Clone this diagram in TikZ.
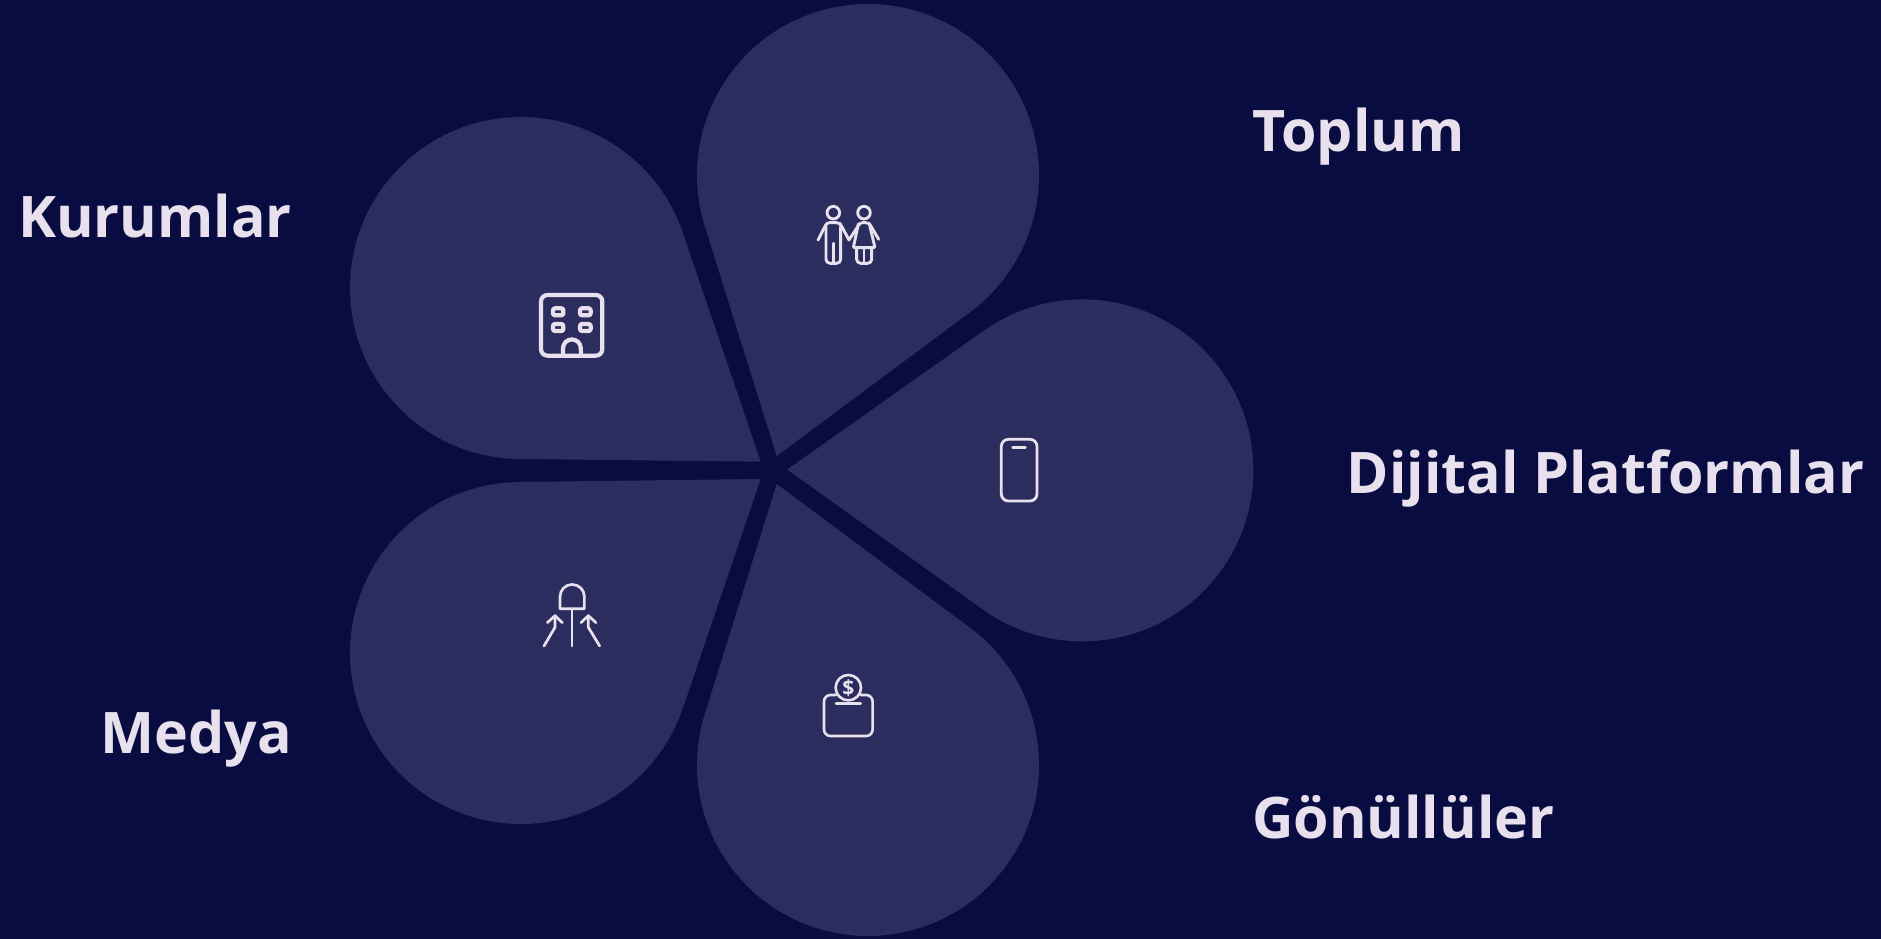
\documentclass[tikz,border=0pt]{standalone}
\usepackage{fontspec}
\setmainfont{Open Sans}
\definecolor{bgc}{HTML}{090C40}
\definecolor{petalc}{HTML}{2B2D5E}
\definecolor{inkc}{HTML}{E8E0EC}
\newcommand{\petalshape}[4]{%
  \pgfmathsetmacro{\pdx}{#3-#1}%
  \pgfmathsetmacro{\pdy}{#2-#4}%
  \pgfmathsetmacro{\pang}{atan2(\pdy,\pdx)}%
  \pgfmathsetmacro{\pd}{veclen(\pdx,\pdy)}%
  \pgfmathsetmacro{\pbeta}{asin(171/\pd)}%
  \pgfmathsetmacro{\pL}{sqrt(\pd-171)*sqrt(\pd+171)}%
  \fill[petalc,shift={(#1pt,{938pt-#2pt})},rotate=\pang]
    (0,0) -- (\pbeta:\pL pt)
    arc[start angle={90+\pbeta},end angle={-90-\pbeta},radius=171pt] -- cycle;
}
\tikzset{
  label text/.style={text=inkc,font=\fontsize{57.3}{58}\selectfont\bfseries,inner sep=0pt},
  icon/.style={draw=inkc,line cap=round,line join=round},
  zoomed/.style={x=0.3333pt,y=-0.3333pt}
}
\begin{document}
\begin{tikzpicture}[x=1pt,y=1pt]
\useasboundingbox (0,0) rectangle (1881,938);
\fill[bgc] (-5,-5) rectangle (1886,943);
\petalshape{776.7}{456}{868}{175}
\petalshape{787.3}{469.5}{1082.4}{470.4}
\petalshape{776.7}{484}{868}{765}
\petalshape{760.7}{479}{521}{653}
\petalshape{760.7}{461.7}{521}{288}

\node[label text,anchor=base west] (toplum) at (1252,786) {Toplum};
\node[label text,anchor=base east] (kurumlar) at (292,700) {Kurumlar};
\node[label text,anchor=base west] (dijital) at (1346.5,444) {Dijital Platformlar};
\node[label text,anchor=base east] (medya) at (292,185) {Medya};
\node[label text,anchor=base west] (gonullu) at (1252,100) {Gönüllüler};

% people
\begin{scope}[shift={(790pt,758pt)},zoomed,icon,line width=2.9pt]
\draw (130,98) circle[radius=6.3pt];
\draw (222,98) circle[radius=6.3pt];
\draw (84,180) -- (106,137) [rounded corners=3pt] -- (110,128) -- (148,128) -- (154,137) [sharp corners] -- (177,180) -- (205,137) [rounded corners=3pt] -- (209,128) -- (236,128) -- (242,137) [sharp corners] -- (266,178);
\draw[rounded corners=4pt] (108,140) -- (108,250) -- (152,250) -- (152,140);
\draw (130,190) -- (130,248);
\draw[rounded corners=1pt] (205,132) -- (190,203) -- (255,203) -- (238,132);
\draw[rounded corners=4pt] (200,203) -- (200,250) -- (245,250) -- (245,203);
\draw (222,203) -- (222,248);
\end{scope}
% building
\begin{scope}[shift={(520pt,662pt)},zoomed,icon,line width=4.2pt]
\draw[rounded corners=6.5pt] (63,57) rectangle (247,239);
\draw[rounded corners=2pt] (99,97) rectangle (130,118);
\draw[rounded corners=2pt] (180,97) rectangle (212,118);
\draw[rounded corners=2pt] (99,144) rectangle (130,165);
\draw[rounded corners=2pt] (180,144) rectangle (212,165);
\draw (129,238) -- (129,217) arc[start angle=180,end angle=0,radius=8.9pt] -- (183,238);
\end{scope}
% phone
\begin{scope}[shift={(980pt,518pt)},zoomed,icon,line width=2.8pt]
\draw[rounded corners=7pt] (64,58) rectangle (171,243);
\draw (98,83) -- (136,83);
\end{scope}
% shovel
\begin{scope}[shift={(525pt,368pt)},zoomed,icon,line width=2.7pt]
\draw (105,116) -- (105,80) arc[start angle=180,end angle=0,radius=12.2pt] -- (178,116) -- cycle;
\draw (141,116) -- (141,228);
\draw (57,228) -- (90,172) -- (90,137);
\draw (67,158) -- (90,137) -- (112,158);
\draw (224,228) -- (190,172) -- (190,137);
\draw (168,158) -- (190,137) -- (213,158);
\end{scope}
% donation
\begin{scope}[shift={(800pt,278pt)},zoomed,icon,line width=2.6pt]
\draw (145,83) circle[radius=12.7pt];
\draw[rounded corners=6.5pt] (108,105) -- (72,105) -- (72,228) -- (218,228) -- (218,105) -- (182,105);
\draw (108,130) -- (182,130);
\node[draw=none,text=inkc,font=\fontsize{21}{21}\selectfont\bfseries,inner sep=0pt] (dollar) at (145,85) {\$};
\end{scope}
\end{tikzpicture}
\end{document}
